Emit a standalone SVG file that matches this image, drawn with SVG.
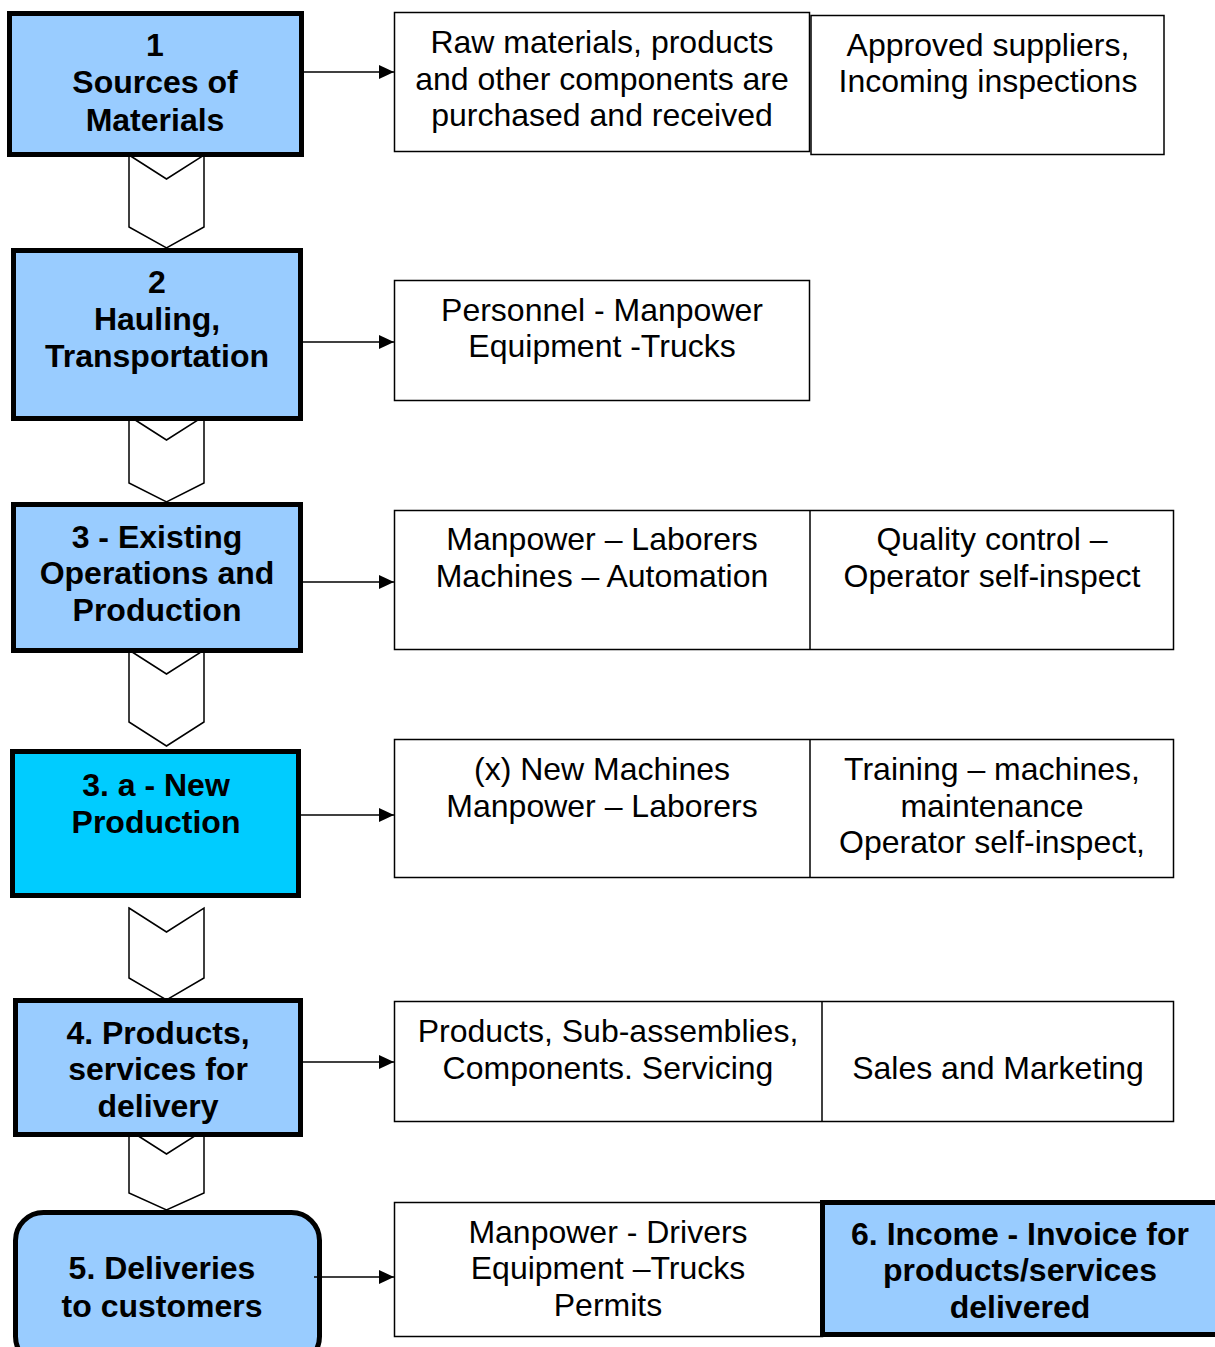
<svg xmlns="http://www.w3.org/2000/svg" width="1215" height="1347" viewBox="0 0 1215 1347">
<defs>
<style>
.step{fill:#99CCFF;stroke:#000;stroke-width:5}
.new{fill:#00CCFF;stroke:#000;stroke-width:5}
.info{fill:#fff;stroke:#000;stroke-width:1.5}
.chev{fill:#fff;stroke:#000;stroke-width:1.5}
.arr{fill:none;stroke:#000;stroke-width:1.5;marker-end:url(#ah)}
.div{stroke:#000;stroke-width:1.5}
.b{font-family:"Liberation Sans",Arial,sans-serif;font-weight:bold;font-size:32px;text-anchor:middle;fill:#000}
.r{font-family:"Liberation Sans",Arial,sans-serif;font-size:32px;text-anchor:middle;fill:#000}
</style>
<marker id="ah" markerWidth="15" markerHeight="14" refX="15" refY="7" orient="auto" markerUnits="userSpaceOnUse">
<path d="M0,0 L15,7 L0,14 Z" fill="#000"/>
</marker>
</defs>
<rect width="1215" height="1347" fill="#fff"/>
<g id="connectors">
<polygon class="chev" points="129,155 166.5,179 204,155 204,227 166.5,248 129,227"/>
<polygon class="chev" points="129,416 166.5,440 204,416 204,483 166.5,502 129,483"/>
<polygon class="chev" points="129,650 166.5,674 204,650 204,722 166.5,746 129,722"/>
<polygon class="chev" points="129,908 166.5,932 204,908 204,978 166.5,1000 129,978"/>
<polygon class="chev" points="129,1130 166.5,1154 204,1130 204,1193 166.5,1210 129,1193"/>
<line class="arr" x1="304" y1="72" x2="394" y2="72"/>
<line class="arr" x1="303" y1="342" x2="394" y2="342"/>
<line class="arr" x1="303" y1="582" x2="394" y2="582"/>
<line class="arr" x1="301" y1="815" x2="394" y2="815"/>
<line class="arr" x1="303" y1="1062" x2="394" y2="1062"/>
</g>
<g id="node1">
<rect class="step" x="9.5" y="13.5" width="292" height="141"/>
<text class="b" x="155" y="56">1</text>
<text class="b" x="155" y="93">Sources of</text>
<text class="b" x="155" y="131">Materials</text>
</g>
<g id="node2">
<rect class="step" x="13.5" y="250.5" width="287" height="168"/>
<text class="b" x="157" y="293">2</text>
<text class="b" x="157" y="330">Hauling,</text>
<text class="b" x="157" y="367">Transportation</text>
</g>
<g id="node3">
<rect class="step" x="13.5" y="504.5" width="287" height="146"/>
<text class="b" x="157" y="548">3 - Existing</text>
<text class="b" x="157" y="584">Operations and</text>
<text class="b" x="157" y="621">Production</text>
</g>
<g id="node3a">
<rect class="new" x="12.5" y="751.5" width="286" height="144"/>
<text class="b" x="156" y="796">3. a - New</text>
<text class="b" x="156" y="833">Production</text>
</g>
<g id="node4">
<rect class="step" x="15.5" y="1000.5" width="285" height="134"/>
<text class="b" x="158" y="1044">4. Products,</text>
<text class="b" x="158" y="1080">services for</text>
<text class="b" x="158" y="1117">delivery</text>
</g>
<g id="node5">
<rect class="step" x="15.5" y="1212.5" width="304" height="152" rx="28"/>
<text class="b" x="162" y="1279">5. Deliveries</text>
<text class="b" x="162" y="1317">to customers</text>
</g>
<g id="connectors2">
<line class="arr" x1="314" y1="1277" x2="394" y2="1277"/>
</g>
<g id="info1">
<rect class="info" x="394.5" y="12.5" width="415" height="139"/>
<text class="r" x="602" y="53">Raw materials, products</text>
<text class="r" x="602" y="90">and other components are</text>
<text class="r" x="602" y="126">purchased and received</text>
</g>
<g id="info1b">
<rect class="info" x="811" y="15.5" width="353" height="139"/>
<text class="r" x="988" y="56">Approved suppliers,</text>
<text class="r" x="988" y="92">Incoming inspections</text>
</g>
<g id="info2">
<rect class="info" x="394.5" y="280.5" width="415" height="120"/>
<text class="r" x="602" y="321">Personnel - Manpower</text>
<text class="r" x="602" y="357">Equipment -Trucks</text>
</g>
<g id="info3">
<rect class="info" x="394.5" y="510.5" width="779" height="139"/>
<line class="div" x1="810" y1="510.5" x2="810" y2="649.5"/>
<text class="r" x="602" y="550">Manpower – Laborers</text>
<text class="r" x="602" y="587">Machines – Automation</text>
<text class="r" x="992" y="550">Quality control –</text>
<text class="r" x="992" y="587">Operator self-inspect</text>
</g>
<g id="info3a">
<rect class="info" x="394.5" y="739.5" width="779" height="138"/>
<line class="div" x1="810" y1="739.5" x2="810" y2="877.5"/>
<text class="r" x="602" y="780">(x) New Machines</text>
<text class="r" x="602" y="817">Manpower – Laborers</text>
<text class="r" x="992" y="780">Training – machines,</text>
<text class="r" x="992" y="817">maintenance</text>
<text class="r" x="992" y="853">Operator self-inspect,</text>
</g>
<g id="info4">
<rect class="info" x="394.5" y="1001.5" width="779" height="120"/>
<line class="div" x1="822" y1="1001.5" x2="822" y2="1121.5"/>
<text class="r" x="608" y="1042">Products, Sub-assemblies,</text>
<text class="r" x="608" y="1079">Components. Servicing</text>
<text class="r" x="998" y="1079">Sales and Marketing</text>
</g>
<g id="info5">
<rect class="info" x="394.5" y="1202.5" width="428" height="134"/>
<text class="r" x="608" y="1243">Manpower - Drivers</text>
<text class="r" x="608" y="1279">Equipment –Trucks</text>
<text class="r" x="608" y="1316">Permits</text>
</g>
<g id="node6">
<rect class="step" x="822.5" y="1202.5" width="400" height="132"/>
<text class="b" x="1020" y="1245">6. Income - Invoice for</text>
<text class="b" x="1020" y="1281">products/services</text>
<text class="b" x="1020" y="1318">delivered</text>
</g>
</svg>
